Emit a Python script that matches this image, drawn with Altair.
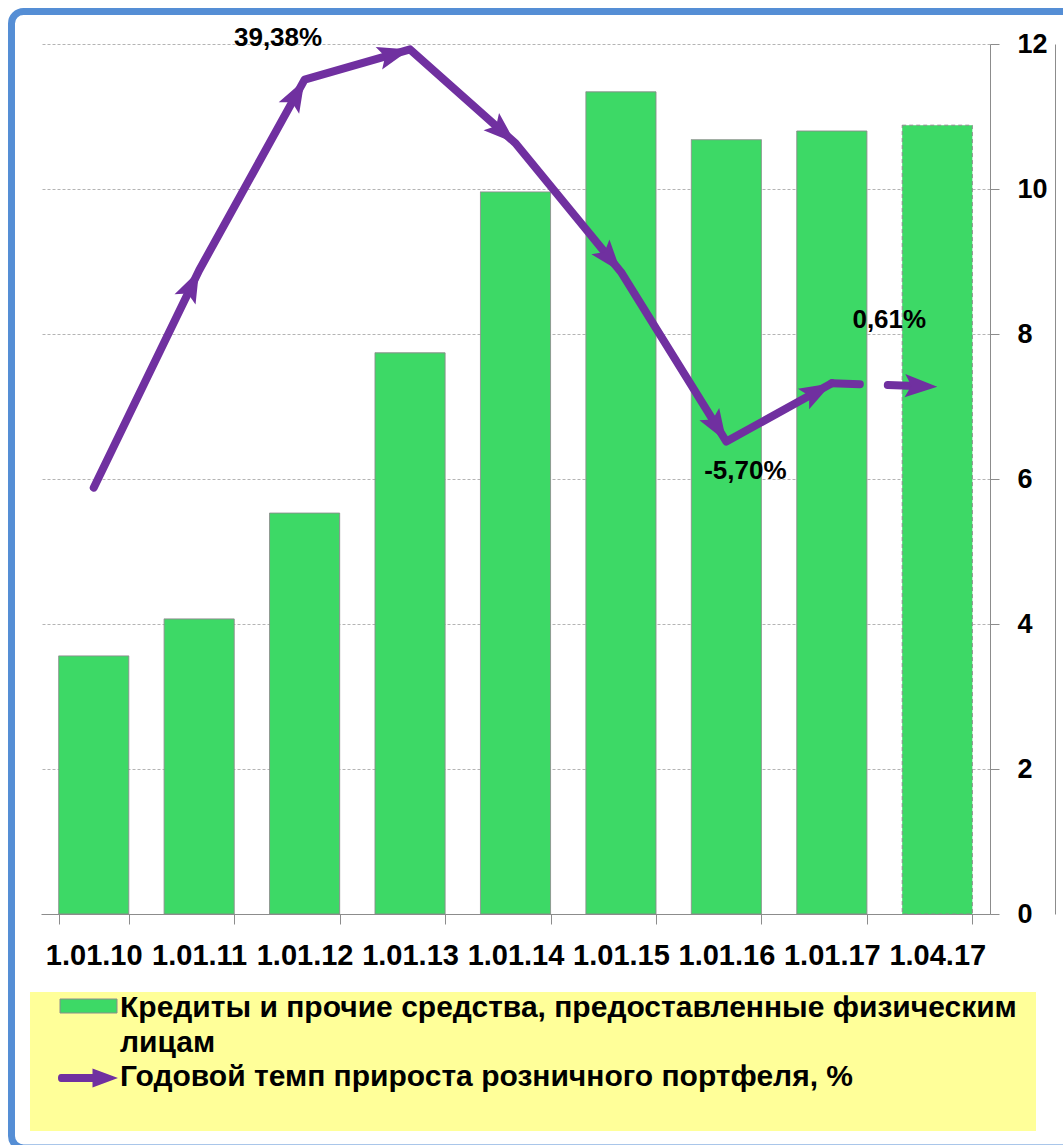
import math
import altair as alt
import pandas as pd

# ---------------- data ----------------
dates = ["1.01.10", "1.01.11", "1.01.12", "1.01.13", "1.01.14",
         "1.01.15", "1.01.16", "1.01.17", "1.04.17"]
loans = [3.56, 4.07, 5.53, 7.74, 9.96, 11.34, 10.68, 10.80, 10.88]
growth = [-11.0, 14.0, 35.9, 39.38, 28.6, 13.8, -5.70, 1.0, 0.61]

label_dates = ["1.01.13", "1.01.16", "1.04.17"]
label_values = [39.38, -5.70, 0.61]
label_texts = ["39,38%", "-5,70%", "0,61%"]

legend_bar = "Кредиты и прочие средства, предоставленные физическим"
legend_bar2 = "лицам"
legend_line = "Годовой темп прироста  розничного портфеля, %"

# ---------------- styling ----------------
W, H = 949, 870
PCT_DOMAIN = [-60, 40]
GREEN = "#3dd966"
PURPLE = "#7030a0"
BLUE = "#558ed5"
GRAY = "#8c8c8c"
FONT = "Liberation Sans"

bars_df = pd.DataFrame({"date": dates, "loans": loans})
line_df = pd.DataFrame({"date": dates, "pct": growth, "idx": list(range(len(dates)))})

# arrowhead angles (screen direction of each segment)
step = W / len(dates)
py = H / (PCT_DOMAIN[1] - PCT_DOMAIN[0])
arrow_rows = []
for i in range(1, len(dates)):
    dv = growth[i] - growth[i - 1]
    ang = math.degrees(math.atan2(step, dv * py)) % 360
    arrow_rows.append({"date": dates[i], "pct": growth[i], "ang": ang})
arrow_df = pd.DataFrame(arrow_rows)

x_enc = alt.X(
    "date:N", sort=dates,
    scale=alt.Scale(paddingInner=0.335, paddingOuter=0.1675),
    axis=alt.Axis(title=None, labelAngle=0, labelFont=FONT, labelFontSize=29,
                  labelFontWeight="bold", labelColor="black", labelPadding=17,
                  tickSize=10, tickColor=GRAY, domainColor=GRAY, tickBand="extent",
                  grid=False),
)

y_pct = alt.Y(
    "pct:Q",
    scale=alt.Scale(domain=PCT_DOMAIN, nice=False, zero=False),
    axis=alt.Axis(orient="right", offset=65, labels=False, ticks=False, grid=False,
                  domainColor=GRAY, title=None),
)

# ---------------- decorations ----------------
one = alt.Data(values=[{"k": 1}])
border = alt.Chart(one).mark_rect(filled=False, stroke=BLUE, strokeWidth=7, cornerRadius=12).encode(
    x=alt.value(-29.5), x2=alt.value(1090), y=alt.value(-32.5), y2=alt.value(1104)
)
legend_bg = alt.Chart(one).mark_rect(color="#ffff99").encode(
    x=alt.value(-11), x2=alt.value(995), y=alt.value(948), y2=alt.value(1087)
)

# ---------------- bars ----------------
bars = alt.Chart(bars_df).mark_bar(color=GREEN, stroke=GRAY, strokeWidth=1).encode(
    x=x_enc,
    y=alt.Y("loans:Q", scale=alt.Scale(domain=[0, 12], nice=False),
            axis=alt.Axis(orient="right", values=[0, 2, 4, 6, 8, 10, 12], title=None,
                          labelFont=FONT, labelFontSize=27, labelFontWeight="bold",
                          labelColor="black", labelPadding=18, tickSize=9,
                          tickColor=GRAY, domainColor=GRAY, grid=True,
                          gridColor="#b4b4b4", gridDash=[3, 2], gridWidth=1)),
    strokeDash=alt.condition(alt.datum.date == "1.04.17", alt.value([4, 3]), alt.value([1, 0])),
)

# ---------------- growth line ----------------
line_solid = alt.Chart(line_df).transform_filter("datum.idx <= 7").mark_line(
    color=PURPLE, strokeWidth=8, strokeCap="round", strokeJoin="round"
).encode(x=x_enc, y=y_pct, order="idx:Q")

line_dash = alt.Chart(line_df).transform_filter("datum.idx >= 7").mark_line(
    color=PURPLE, strokeWidth=8, strokeCap="round", strokeDash=[28, 28]
).encode(x=x_enc, y=y_pct, order="idx:Q")

ARROW_PATH = "M0,0L-0.36,1L0,0.8L0.36,1Z"
arrows = alt.Chart(arrow_df).mark_point(
    shape=ARROW_PATH, filled=True, color=PURPLE, size=4200, opacity=1, strokeWidth=0
).encode(x=x_enc, y=y_pct, angle=alt.Angle("ang:Q", scale=None))

offsets = [(-132, -11), (19, 29), (-48, -67)]
label_layers = []
for d, v, t, (ddx, ddy) in zip(label_dates, label_values, label_texts, offsets):
    ldf = pd.DataFrame({"date": [d], "pct": [v], "txt": [t]})
    label_layers.append(
        alt.Chart(ldf).mark_text(font=FONT, fontSize=26, fontWeight="bold", color="black",
                                 dx=ddx, dy=ddy, align="center", baseline="middle")
        .encode(x=x_enc, y=y_pct, text="txt:N")
    )

pct_layer = alt.layer(line_solid, line_dash, arrows, *label_layers)

# ---------------- legend ----------------
leg_sym1 = alt.Chart(one).mark_rect(color=GREEN, stroke=GRAY, strokeWidth=1).encode(
    x=alt.value(19), x2=alt.value(76), y=alt.value(955), y2=alt.value(969)
)
LEG_ARROW = "M-0.9,-0.13L0.15,-0.13L0.15,-0.32L1,0L0.15,0.32L0.15,0.13L-0.9,0.13Q-1,0.13,-1,0Q-1,-0.13,-0.9,-0.13Z"
leg_sym2 = alt.Chart(one).mark_point(
    shape=LEG_ARROW, filled=True, color=PURPLE, size=3600, opacity=1, strokeWidth=0
).encode(x=alt.value(47), y=alt.value(1034))
leg_text = alt.Chart(one).mark_text(
    font=FONT, fontSize=30, fontWeight="bold", color="black", align="left",
    baseline="middle", lineHeight=34.5
).encode(x=alt.value(79), y=alt.value(964),
         text=alt.value([legend_bar, legend_bar2, legend_line]))

chart = alt.layer(
    border, legend_bg, bars, pct_layer, leg_sym1, leg_sym2, leg_text
).resolve_scale(y="independent").properties(
    width=W, height=H,
    autosize=alt.AutoSizeParams(type="none"),
    padding={"left": 41, "top": 44, "right": 73, "bottom": 231},
    background="white",
).configure_view(stroke=None)

chart.save("out.html", embed_options={"renderer": "svg", "actions": False})
